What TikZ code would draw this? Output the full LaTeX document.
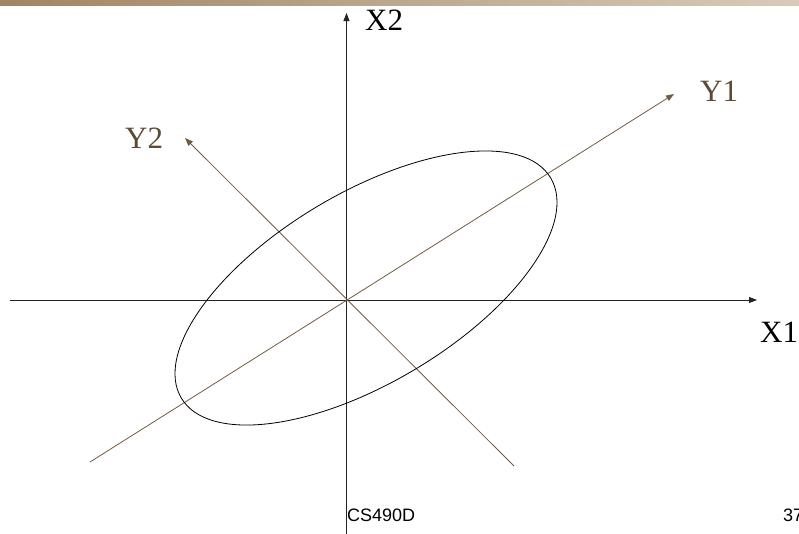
\documentclass[tikz,border=0pt]{standalone}
\usepackage{fontspec}
\setmainfont{Liberation Serif}
\setsansfont{Liberation Sans}
\usetikzlibrary{arrows.meta}
\definecolor{axisgray}{RGB}{35,35,35}
\definecolor{pcbrown}{RGB}{112,92,66}
\definecolor{lblbrown}{RGB}{92,74,50}
\definecolor{barleft}{RGB}{160,133,98}
\definecolor{barright}{RGB}{216,203,184}
\tikzset{
  axis/.style  ={-{Triangle[length=8pt,width=6pt]}, draw=axisgray, line width=0.8pt},
  pcaxis/.style={-{Triangle[length=8pt,width=6pt]}, draw=pcbrown, line width=0.8pt},
  axlbl/.style ={font=\fontsize{31}{31}\selectfont, inner sep=0pt, anchor=base west},
  pclbl/.style ={axlbl, text=lblbrown},
  foot/.style  ={font=\sffamily\fontsize{18}{18}\selectfont, inner sep=0pt, anchor=base west},
}

\begin{document}
\begin{tikzpicture}[x=1pt,y=-1pt]
\useasboundingbox (0,0) rectangle (799,533);
\shade[left color=barleft, right color=barright] (0,0) rectangle (799,5.5);
% axes
\coordinate (x1s) at (10,300);
\coordinate (x1e) at (757,300);
\coordinate (x2s) at (346.5,540);
\coordinate (x2e) at (346.5,13);
\coordinate (y1s) at (90,462);
\coordinate (y1e) at (674,94);
\coordinate (y2s) at (514,466);
\coordinate (y2e) at (185,138);
\draw[axis] (x1s) -- (x1e);
\draw[axis] (x2s) -- (x2e);
\foreach \a/\b in {y1s/y1e,y2s/y2e} \draw[pcaxis] (\a) -- (\b);
\draw[line width=0.8pt] (366,288) ellipse [x radius=215pt, y radius=95pt, rotate=30.8];
% labels
\node[axlbl] (lx1) at (760,342) {X1};
\node[axlbl] (lx2) at (365,30) {X2};
\node[pclbl] (ly1) at (700,101) {Y1};
\node[pclbl] (ly2) at (125,148) {Y2};
\node[foot] (crs) at (347,521) {CS490D};
\node[foot] (pg) at (783,521) {37};
\end{tikzpicture}
\end{document}
